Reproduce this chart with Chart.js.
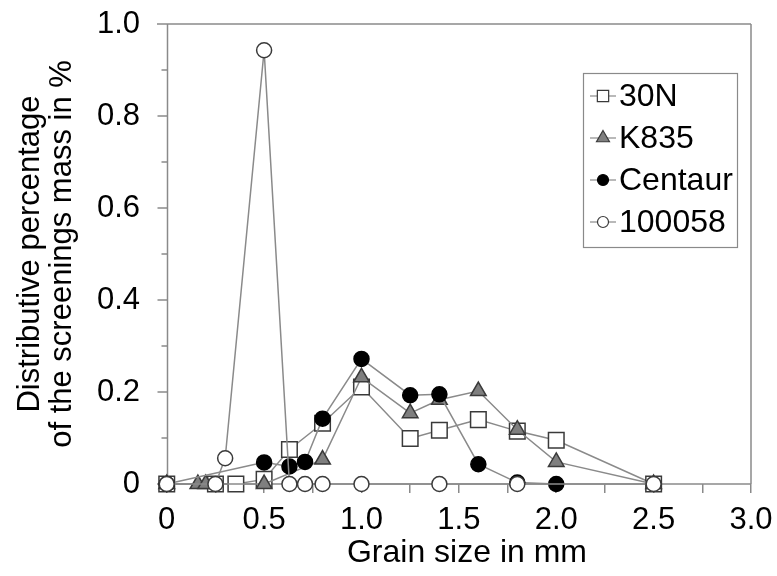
<!DOCTYPE html>
<html>
<head>
<meta charset="utf-8">
<script src="https://cdn.jsdelivr.net/npm/chart.js@4.4.1/dist/chart.umd.min.js"></script>
<style>
  html, body { margin: 0; padding: 0; background: #ffffff; }
  #wrap { width: 777px; height: 576px; position: relative; }
</style>
</head>
<body>
<div id="wrap"><canvas id="c" width="777" height="576"></canvas></div>
<script>
// ---- Data ----
const seriesNames = ["30N", "K835", "Centaur", "100058"];

const x30N = [0, 0.25, 0.355, 0.5, 0.63, 0.8, 1.0, 1.25, 1.4, 1.6, 1.8, 2.0, 2.5];
const y30N = [0, 0, 0, 0.01, 0.075, 0.132, 0.211, 0.099, 0.117, 0.14, 0.115, 0.095, 0];

const xK835 = [0, 0.16, 0.2, 0.5, 0.8, 1.0, 1.25, 1.4, 1.6, 1.8, 2.0, 2.5];
const yK835 = [0, 0, 0, 0, 0.053, 0.232, 0.154, 0.183, 0.202, 0.118, 0.048, 0];

const xCentaur = [0, 0.5, 0.63, 0.71, 0.8, 1.0, 1.25, 1.4, 1.6, 1.8, 2.0];
const yCentaur = [0, 0.047, 0.038, 0.048, 0.142, 0.272, 0.193, 0.195, 0.043, 0.003, 0];

const x100058 = [0, 0.25, 0.3, 0.5, 0.63, 0.71, 0.8, 1.0, 1.4, 1.8, 2.5];
const y100058 = [0, 0, 0.056, 0.943, 0, 0, 0, 0, 0, 0, 0];

const xTickValues = [0, 0.25, 0.5, 0.75, 1.0, 1.25, 1.5, 1.75, 2.0, 2.25, 2.5, 2.75, 3.0];
const yTickValues = [0, 0.2, 0.4, 0.6, 0.8, 1.0];
const yMinorTickValues = [0.1, 0.3, 0.5, 0.7, 0.9];

const xTitle = "Grain size in mm";
const yTitle = ["Distributive percentage", "of the screenings mass in %"];

// ---- Styling ----
const FONT = "'Liberation Sans', Arial, sans-serif";
const LINE = "#8a8a8a";
const EDGE = "#3a3a3a";
const FRAME = "#8a8a8a";

function pts(xs, ys) { return xs.map((x, i) => ({ x: x, y: ys[i] })); }

const styles = [
  { pointStyle: "rect", radius: 11, bg: "#ffffff", border: EDGE, order: 4 },
  { pointStyle: "triangle", radius: 9, bg: "#7f7f7f", border: EDGE, order: 3 },
  { pointStyle: "circle", radius: 7.5, bg: "#000000", border: "#000000", order: 2 },
  { pointStyle: "circle", radius: 7.5, bg: "#ffffff", border: EDGE, order: 1 }
];
const seriesData = [pts(x30N, y30N), pts(xK835, yK835), pts(xCentaur, yCentaur), pts(x100058, y100058)];

const datasets = seriesNames.map((name, i) => ({
  label: name,
  data: seriesData[i],
  showLine: true,
  clip: false,
  borderColor: LINE,
  borderWidth: 1.5,
  pointStyle: styles[i].pointStyle,
  pointRadius: styles[i].radius,
  pointHoverRadius: styles[i].radius,
  pointBackgroundColor: styles[i].bg,
  pointBorderColor: styles[i].border,
  pointBorderWidth: 1.5,
  order: styles[i].order,
  tension: 0
}));

// Shift the x-axis title box slightly right (as in the reference); ticks are already configured
const titleShiftPlugin = {
  id: "titleShift",
  afterLayout(chart) {
    const sx = chart.scales.x;
    sx.left += 13;
    sx.right += 13;
  }
};

// Frame, x axis line, y axis at x = 0 and its tick marks
const framePlugin = {
  id: "frame",
  beforeDatasetsDraw(chart) {
    const { ctx, chartArea: a, scales } = chart;
    const x0 = Math.round(scales.x.getPixelForValue(0)) + 0.5;
    ctx.save();
    ctx.strokeStyle = FRAME;
    ctx.lineWidth = 1.5;
    ctx.beginPath();
    ctx.moveTo(a.left, a.top); ctx.lineTo(a.right, a.top);
    ctx.moveTo(a.right, a.top); ctx.lineTo(a.right, a.bottom);
    ctx.moveTo(a.left, a.bottom); ctx.lineTo(a.right, a.bottom);
    ctx.moveTo(x0, a.top); ctx.lineTo(x0, a.bottom);
    yTickValues.forEach(v => {
      const y = scales.y.getPixelForValue(v);
      ctx.moveTo(x0 - 10, y); ctx.lineTo(x0, y);
    });
    yMinorTickValues.forEach(v => {
      const y = scales.y.getPixelForValue(v);
      ctx.moveTo(x0 - 6, y); ctx.lineTo(x0, y);
    });
    ctx.stroke();
    ctx.restore();
  }
};

function drawMarker(ctx, style, x, y, r, bg, border) {
  ctx.save();
  ctx.fillStyle = bg;
  ctx.strokeStyle = border;
  ctx.lineWidth = 1.2;
  ctx.beginPath();
  if (style === "rect") {
    const s = r * Math.SQRT1_2;
    ctx.rect(x - s, y - s, 2 * s, 2 * s);
  } else if (style === "triangle") {
    ctx.moveTo(x, y - r);
    ctx.lineTo(x + r * Math.sin(2 * Math.PI / 3), y - r * Math.cos(2 * Math.PI / 3));
    ctx.lineTo(x + r * Math.sin(4 * Math.PI / 3), y - r * Math.cos(4 * Math.PI / 3));
    ctx.closePath();
  } else {
    ctx.arc(x, y, r, 0, Math.PI * 2);
  }
  ctx.fill();
  ctx.stroke();
  ctx.restore();
}

// Legend box inside the plot
const legendPlugin = {
  id: "boxLegend",
  afterDraw(chart) {
    const { ctx } = chart;
    const bx = 583.5, by = 73.5, bw = 154, bh = 174;
    ctx.save();
    ctx.fillStyle = "#ffffff";
    ctx.fillRect(bx, by, bw, bh);
    ctx.strokeStyle = "#8a8a8a";
    ctx.lineWidth = 1.2;
    ctx.strokeRect(bx, by, bw, bh);
    const rows = [96, 138, 180, 222];
    const legendR = [8, 7.5, 5.5, 5.5];
    chart.data.datasets.forEach((ds, i) => {
      const y = rows[i];
      ctx.strokeStyle = LINE;
      ctx.lineWidth = 1.2;
      ctx.beginPath();
      ctx.moveTo(590, y); ctx.lineTo(616, y);
      ctx.stroke();
      drawMarker(ctx, styles[i].pointStyle, 603, y, legendR[i], styles[i].bg, styles[i].border);
      ctx.fillStyle = "#000000";
      ctx.font = "32px " + FONT;
      ctx.textAlign = "left";
      ctx.textBaseline = "middle";
      ctx.fillText(ds.label, 619, y + 1);
    });
    ctx.restore();
  }
};

new Chart(document.getElementById("c"), {
  type: "scatter",
  data: { datasets: datasets },
  plugins: [titleShiftPlugin, framePlugin, legendPlugin],
  options: {
    responsive: false,
    animation: false,
    devicePixelRatio: 1,
    layout: { padding: { top: 24, right: 26, left: 0, bottom: 0 } },
    plugins: { legend: { display: false }, tooltip: { enabled: false } },
    scales: {
      x: {
        type: "linear",
        min: -0.05,
        max: 3.0,
        afterBuildTicks(scale) { scale.ticks = xTickValues.map(v => ({ value: v })); },
        afterFit(scale) { scale.height = 92; scale.paddingLeft = 0; scale.paddingRight = 0; },
        ticks: {
          autoSkip: false,
          maxRotation: 0,
          padding: 9,
          color: "#000000",
          font: { family: FONT, size: 31 },
          callback(v) {
            if (Math.abs(v * 2 - Math.round(v * 2)) > 1e-6) return "";
            return v === 0 ? "0" : v.toFixed(1);
          }
        },
        grid: { drawOnChartArea: false, drawTicks: true, tickLength: 9, color: FRAME, lineWidth: 1.5 },
        border: { display: false },
        title: { display: true, text: xTitle, color: "#000000", font: { family: FONT, size: 32 }, padding: { top: 0, bottom: 4 } }
      },
      y: {
        type: "linear",
        min: 0,
        max: 1.0,
        afterBuildTicks(scale) { scale.ticks = yTickValues.map(v => ({ value: v })); },
        afterFit(scale) { scale.width = 157; scale.paddingTop = 0; scale.paddingBottom = 0; },
        ticks: {
          padding: 17,
          color: "#000000",
          font: { family: FONT, size: 31 },
          callback(v) { return v === 0 ? "0" : v.toFixed(1); }
        },
        grid: { display: false, drawTicks: false },
        border: { display: false },
        title: { display: true, text: yTitle, color: "#000000", font: { family: FONT, size: 31, lineHeight: 1.05 }, padding: { top: 14, bottom: 0 } }
      }
    }
  }
});
</script>
</body>
</html>
